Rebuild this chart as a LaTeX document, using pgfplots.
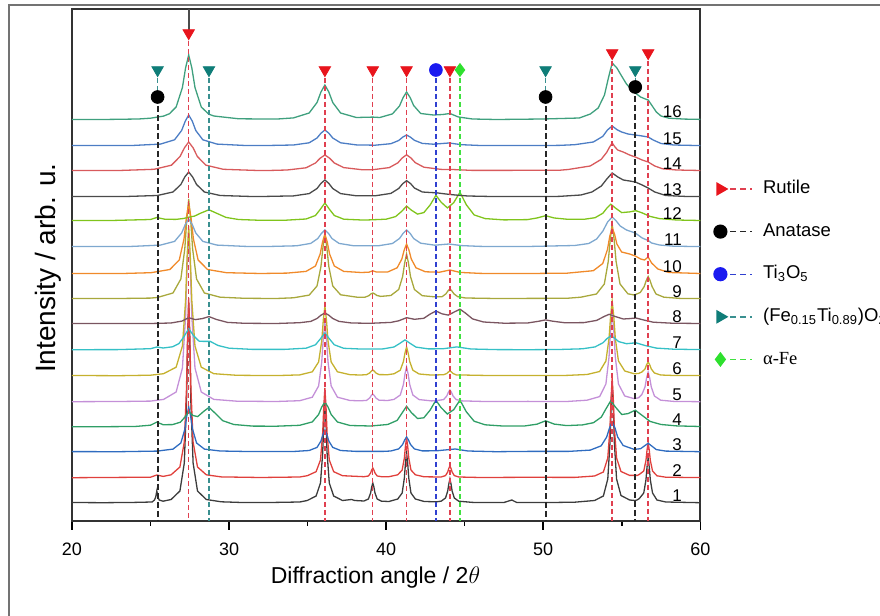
\documentclass[border=0pt]{standalone}
\usepackage{pgfplots}
\pgfplotsset{compat=1.18}
\usepackage{pgfplotstable}
\usepackage{fontspec}
\setmainfont{Liberation Sans}
\newfontfamily\serifa{Liberation Serif}

\definecolor{cA}{HTML}{3C3C3C}
\definecolor{cB}{HTML}{E0403C}
\definecolor{cC}{HTML}{2F6CC0}
\definecolor{cD}{HTML}{2F9E66}
\definecolor{cE}{HTML}{C490D8}
\definecolor{cF}{HTML}{C5B12E}
\definecolor{cG}{HTML}{35C0C6}
\definecolor{cH}{HTML}{7A5560}
\definecolor{cI}{HTML}{A8A83C}
\definecolor{cJ}{HTML}{F08A2A}
\definecolor{cK}{HTML}{7EA8CF}
\definecolor{cL}{HTML}{80C41C}
\definecolor{cM}{HTML}{4A4A4A}
\definecolor{cN}{HTML}{D85A5C}
\definecolor{cO}{HTML}{4C7DC4}
\definecolor{cP}{HTML}{3FA07E}
\definecolor{mred}{HTML}{E8141C}
\definecolor{mteal}{HTML}{0F7D78}
\definecolor{mblue}{HTML}{1A1AF0}
\definecolor{mgreen}{HTML}{2EE02E}
\definecolor{dred}{HTML}{E04050}
\definecolor{dteal}{HTML}{3A9090}
\definecolor{dblue}{HTML}{3040D0}
\definecolor{dgreen}{HTML}{40E040}

% sample 1
\pgfplotstableread{
x y
20.00 0.5
22.00 0.3
24.00 0.6
25.10 1.0
25.25 3
25.33 6
25.40 12
25.47 6
25.55 3
25.80 1.8
26.31 3.5
26.87 12
27.15 40
27.29 100
27.36 160
27.43 200
27.50 160
27.57 100
27.71 40
27.99 12
28.55 3.5
29.50 1.2
31.00 0.4
33.00 0.6
34.50 1
34.98 2.5
35.54 7
35.82 20
35.96 50
36.03 80
36.10 100
36.17 80
36.24 50
36.38 20
36.66 7
37.22 2.5
37.80 3.5
38.00 2.5
38.59 2.0
38.87 4
39.01 10
39.08 16
39.15 20
39.22 16
39.29 10
39.43 4
39.71 1.8
40.18 1.5
40.74 4
41.02 10
41.16 25
41.23 40
41.30 50
41.37 40
41.44 25
41.58 10
41.86 4
42.42 1.5
43.20 1.2
43.50 1.8
43.78 5
43.92 12
43.99 19
44.06 24
44.13 19
44.20 12
44.34 5
44.62 1.8
45.50 0.6
47.50 0.5
48.00 3
48.30 0.6
50.00 0.4
52.00 0.8
53.27 2.5
53.83 7
54.11 24
54.25 60
54.32 96
54.39 120
54.46 96
54.53 60
54.67 24
54.95 7.5
55.50 3
55.86 2.5
56.00 3.2
56.12 4.5
56.40 10
56.54 23
56.61 36
56.68 45
56.75 36
56.82 23
56.96 10
57.24 3
57.80 1
60.00 0.3
}\dataA
% sample 2
\pgfplotstableread{
x y
20.00 0.3
23.00 0.6
25.00 0.8
25.40 3
25.80 1.6
26.31 3.2
26.87 11
27.15 36
27.29 90
27.36 144
27.43 180
27.50 144
27.57 90
27.71 36
27.99 11
28.55 3.2
29.50 1.1
32.00 0.5
34.50 1
34.98 2.3
35.54 6.3
35.82 18
35.96 45
36.03 72
36.10 90
36.17 72
36.24 45
36.38 18
36.66 6.3
37.22 2.3
38.59 1.3
38.87 2
39.01 5
39.08 8
39.15 10
39.22 8
39.29 5
39.43 2
39.71 1.3
40.18 1.3
40.74 3.2
41.02 8
41.16 20
41.23 32
41.30 40
41.37 32
41.44 20
41.58 8
41.86 3.2
42.42 1.2
43.50 1
43.78 2.4
43.92 6
43.99 9.6
44.06 12
44.13 9.6
44.20 6
44.34 2.4
44.62 1
46.00 0.5
49.00 0.7
52.00 0.6
53.27 2
53.83 6
54.11 20
54.25 50
54.32 80
54.39 100
54.46 80
54.53 50
54.67 20
54.95 6.5
55.50 2.6
56.00 2.6
56.12 3.6
56.40 7
56.54 17.5
56.61 28
56.68 35
56.75 28
56.82 17.5
56.96 7
57.24 2.2
57.80 0.8
60.00 0.4
}\dataB
% sample 3
\pgfplotstableread{
x y
20.00 0.4
23.00 0.3
25.43 0.9
26.43 2.9
26.93 9
27.18 22.5
27.31 36
27.43 45
27.55 36
27.68 22.5
27.93 9
28.43 2.9
29.43 1.0
31.50 0.4
34.10 0.5
35.10 1.5
35.60 4.6
35.85 11
35.98 17.6
36.10 22
36.22 17.6
36.35 11
36.60 4.6
37.10 1.5
38.10 0.6
39.80 0.6
40.30 1.0
40.80 3.1
41.05 7.5
41.18 12
41.30 15
41.42 12
41.55 7.5
41.80 3.1
42.30 1.1
43.20 1.2
44.40 3
45.20 1
47.00 0.3
49.00 0.6
51.60 0.6
53.00 1.9
53.69 6.2
54.04 15
54.22 24
54.39 30
54.57 24
54.74 15
55.09 6.5
55.79 2.6
56.20 3.3
56.50 6.7
56.68 8.7
56.85 6.7
57.20 2.4
57.80 0.9
60.00 0.3
}\dataC
% sample 4
\pgfplotstableread{
x y
20 0.3
22 0.3
24 0.5
25.0 1.8
25.4 4.9
25.8 2.3
26.4 2.4
26.9 4.8
27.2 10.1
27.43 15.4
27.7 11.5
28.0 10.4
28.4 15.8
28.72 19.6
29.1 14.0
29.6 6.3
30.3 2.5
31.5 0.9
33.0 0.8
34.5 1.7
35.3 5.1
35.7 12.5
35.9 20
36.1 25
36.3 20
36.5 12.5
36.9 5.0
37.7 1.5
39.0 1.0
40.1 2.5
40.7 6.6
41.0 13.7
41.3 20.7
41.6 14.5
42.0 8.5
42.4 9.2
42.8 16.9
43.17 26.8
43.5 19.3
43.9 13.0
44.3 17.3
44.7 26.9
45.1 15.3
45.6 5.8
46.3 2.2
47.5 0.9
48.8 1.0
49.6 2.8
50.15 6.2
50.7 2.9
51.5 1.4
52.5 2.1
53.2 4.3
53.7 9.9
54.0 18.3
54.3 26.2
54.6 19.9
55.0 12.5
55.4 13.4
55.86 16.8
56.3 11.6
56.8 5.6
57.5 2.5
58.5 1.1
60 0.5
}\dataD
% sample 5
\pgfplotstableread{
x y
20.00 0.3
23.00 0.5
25.00 0.9
25.83 2.6
26.63 10
27.03 34
27.23 85
27.33 136
27.43 170
27.53 136
27.63 85
27.83 34
28.23 10
29.03 2.6
30.50 0.8
33.00 0.5
34.50 1.3
35.30 4.8
35.70 16
35.90 40
36.00 64
36.10 80
36.20 64
36.30 40
36.50 16
36.90 4.8
37.70 1.5
38.35 1.2
38.75 1.6
38.95 4
39.05 6.4
39.15 8
39.25 6.4
39.35 4
39.55 1.8
40.10 1.5
40.50 2.6
40.90 7
41.10 17.5
41.20 28
41.30 35
41.40 28
41.50 17.5
41.70 7
42.10 2.4
42.90 1.1
43.26 1.5
43.66 2.4
43.86 6
43.96 9.6
44.06 12
44.16 9.6
44.26 6
44.46 2.4
44.86 1.1
46.50 0.4
49.00 0.6
51.50 0.5
52.79 1.8
53.59 5.4
53.99 18
54.19 45
54.29 72
54.39 90
54.49 72
54.59 45
54.79 18
55.19 6
55.80 3.3
56.08 4.3
56.28 7.5
56.48 15
56.58 24
56.68 30
56.78 24
56.88 15
57.08 6
57.48 1.8
58.30 0.6
60.00 0.3
}\dataE
% sample 6
\pgfplotstableread{
x y
20.00 0.5
23.00 0.3
25.00 0.8
25.83 2.3
26.63 8.8
27.03 30
27.23 75
27.33 120
27.43 150
27.53 120
27.63 75
27.83 30
28.23 8.8
29.03 2.3
30.50 0.7
33.00 0.4
34.50 1.1
35.30 4.2
35.70 14
35.90 35
36.00 56
36.10 70
36.20 56
36.30 35
36.50 14
36.90 4.2
37.70 1.3
38.35 1.0
38.75 1.3
38.95 3
39.05 4.8
39.15 6
39.25 4.8
39.35 3
39.55 1.4
40.10 1.3
40.50 2.2
40.90 5.8
41.10 14.5
41.20 23
41.30 29
41.40 23
41.50 14.5
41.70 5.8
42.10 2.0
42.90 0.9
43.66 1.3
43.86 2.5
43.96 4
44.06 5
44.16 4
44.26 2.5
44.46 1.1
46.50 0.5
49.00 0.4
51.50 0.6
52.79 1.5
53.59 4.5
53.99 15
54.19 37.5
54.29 60
54.39 75
54.49 60
54.59 37.5
54.79 15
55.19 5
55.80 2.2
56.08 2.6
56.28 4
56.48 7
56.58 11.2
56.68 14
56.78 11.2
56.88 7
57.08 3
57.48 1.0
58.30 0.5
60.00 0.4
}\dataF
% sample 7
\pgfplotstableread{
x y
20 0.3
23 0.4
25.0 1.3
25.4 3.0
25.8 2.0
26.4 3.2
26.8 6.3
27.1 12.7
27.43 21.3
27.75 14.1
28.1 8.7
28.5 8.6
28.8 8.6
29.3 4.5
30.0 1.8
31.5 0.6
33.5 0.6
34.9 1.8
35.5 5.2
35.8 10.9
36.1 17
36.4 10.9
36.7 5.2
37.3 1.7
38.5 0.9
39.8 1.1
40.5 3.0
40.9 6.9
41.2 10.1
41.5 6.9
41.9 2.9
42.7 1.1
43.6 1.2
44.5 3.1
45.4 1.0
47.0 0.4
49.0 0.3
51.0 0.5
52.5 1.2
53.3 3.1
53.8 7.2
54.05 11.2
54.3 14.1
54.55 11.8
54.8 8.4
55.3 6.3
55.9 7.2
56.5 4.4
57.2 1.9
58.3 0.8
60 0.4
}\dataG
% sample 8
\pgfplotstableread{
x y
20 0.4
23 0.5
25.0 0.5
26.3 1.0
27.0 2.9
27.43 6.3
27.85 4.4
28.3 5.4
28.72 7.4
29.2 4.5
29.9 1.6
31.0 0.7
33.0 0.5
34.5 1.3
35.2 2.6
35.6 5.5
35.85 8.8
36.1 11
36.35 8.8
36.6 5.5
37.0 2.6
37.8 1.0
39.0 0.7
40.3 1.6
40.8 3.2
41.3 6.3
41.8 4.7
42.4 5.7
42.8 9.9
43.17 13.0
43.55 10.2
43.95 8.9
44.35 12.1
44.7 14.8
45.05 10.9
45.5 5.1
46.2 2.0
47.5 0.8
49.0 1.0
49.7 2.7
50.15 4.1
50.6 2.8
51.4 1.2
52.6 1.4
53.4 3.6
53.9 7.7
54.2 9.7
54.6 7.4
55.1 5.0
55.5 5.4
55.9 6.0
56.4 4.0
57.0 1.8
58.2 0.8
60 0.5
}\dataH
% sample 9
\pgfplotstableread{
x y
20.00 0.4
23.00 0.5
25.00 0.9
25.43 1.5
26.43 6
26.93 20
27.18 50
27.31 80
27.43 100
27.55 80
27.68 50
27.93 20
28.43 6
29.43 1.8
31.00 0.7
33.00 0.5
34.10 1.2
35.10 3.9
35.60 13
35.85 32.5
35.98 52
36.10 65
36.22 52
36.35 32.5
36.60 13
37.10 4.2
38.15 1.8
38.65 1.8
38.90 3.3
39.03 5.1
39.15 6
39.27 5.1
39.40 3.6
39.65 2.6
40.30 3.5
40.80 9.5
41.05 22.5
41.18 36
41.30 45
41.42 36
41.55 22.5
41.80 9.5
42.30 3.3
43.06 2.2
43.56 2.3
43.81 5.2
43.94 8.2
44.06 10
44.18 8.2
44.31 5.2
44.56 2.3
45.06 1.0
47.00 0.5
49.00 0.6
51.50 0.7
52.39 1.8
53.39 5
53.89 15
54.14 37.5
54.27 60
54.39 75
54.51 60
54.64 37.5
54.89 15
55.39 5.2
55.80 4
56.18 6.5
56.43 12.5
56.56 18.5
56.68 22.5
56.80 18.5
56.93 12.5
57.18 5
57.68 1.8
58.70 0.6
60.00 0.4
}\dataI
% sample 10
\pgfplotstableread{
x y
20.00 0.5
23.00 0.4
25.03 1.3
26.23 4.5
26.83 14
27.13 35
27.28 56
27.43 70
27.58 56
27.73 35
28.03 14
28.63 4.5
29.83 1.3
32.00 0.5
33.70 0.9
34.90 2.6
35.50 8
35.80 20
35.95 32
36.10 40
36.25 32
36.40 20
36.70 8
37.30 2.6
38.40 1.5
38.90 1.8
39.15 3.2
39.40 1.9
40.10 2.0
40.70 6.2
41.00 15
41.15 24
41.30 30
41.45 24
41.60 15
41.90 6.2
42.50 2.2
43.40 1.8
44.06 4
44.70 1.6
46.00 0.6
49.00 0.5
51.50 0.8
53.19 3.3
53.79 10.5
54.09 24.5
54.24 38
54.39 46
54.54 40
54.69 30
54.99 22
55.50 20
55.86 18
56.20 15
56.45 14
56.68 17
56.90 11
57.30 5
58.00 1.5
60.00 0.5
}\dataJ
% sample 11
\pgfplotstableread{
x y
20 0.4
22 0.4
23.83 0.6
25.63 1.9
26.53 5.6
26.98 14
27.21 22.4
27.43 28
27.66 22.4
27.88 14
28.33 5.6
29.23 1.9
31.03 0.6
32.50 0.5
34.30 1.2
35.20 3.6
35.65 8.5
35.88 13.6
36.10 17
36.33 13.6
36.55 8.5
37.00 3.6
37.90 1.3
39.50 1.2
40.40 3.5
40.85 8.5
41.08 13.6
41.30 17
41.53 13.6
41.75 8.5
42.20 3.8
43.10 1.8
44.00 3
44.80 1.4
46.00 0.6
49.00 0.5
52.00 1.5
52.90 3.5
53.40 8
53.80 16
54.10 25
54.39 30
54.65 26
54.90 21
55.30 17
55.86 14
56.30 9
56.68 6.5
56.90 4
57.40 2
58.30 0.8
60 0.4
}\dataK
% sample 12
\pgfplotstableread{
x y
20 0.4
22.5 0.5
25.0 1.5
25.4 3.5
25.9 1.8
26.6 1.6
27.1 2.5
27.43 3.8
27.8 4.9
28.2 7.9
28.72 11.2
29.2 7.8
29.8 3.6
30.6 1.5
32.0 0.7
33.5 0.7
34.9 2.0
35.5 5.5
35.8 11.5
36.1 18
36.4 11.5
36.7 5.5
37.3 1.8
38.6 0.9
40.0 1.8
40.6 4.4
41.0 9.8
41.3 14.9
41.6 10.9
42.0 6.9
42.4 8.4
42.8 16.0
43.17 25.7
43.5 18.8
43.9 13.1
44.3 18.3
44.7 28.8
45.1 16.3
45.6 6.1
46.3 2.4
47.5 1.1
49.0 1.4
49.6 3.0
50.15 5.3
50.7 3.0
51.5 1.8
52.6 1.7
53.3 3.3
53.8 7.8
54.05 12.8
54.3 16.8
54.6 12.9
55.0 8.4
55.5 9.1
55.9 10.3
56.3 8.1
56.8 4.6
57.4 2.4
58.5 1.0
60 0.5
}\dataL
% sample 13
\pgfplotstableread{
x y
20 0.4
23.43 0.5
25.43 1.5
26.43 5
26.93 12.5
27.18 20
27.43 25
27.68 20
27.93 12.5
28.43 5
29.43 1.5
31.43 0.5
32.10 0.5
34.10 1.1
35.10 3.4
35.60 8.5
35.85 13.6
36.10 17
36.35 13.6
36.60 8.5
37.10 3.4
38.10 1.2
39.30 1.2
40.30 3.6
40.80 8.5
41.05 13.2
41.30 16.3
41.55 13.5
41.80 9
42.30 5
42.80 4.5
43.20 4.2
43.80 3
44.40 2
45.20 1
47.00 0.4
51.00 0.6
52.40 2
53.10 5
53.70 11
54.05 18
54.39 24
54.75 20
55.10 17
55.50 16
55.86 15
56.30 12
56.68 9
57.10 5
57.80 1.5
59.00 0.6
60 0.4
}\dataM
% sample 14
\pgfplotstableread{
x y
20 0.5
23.00 0.5
25.23 1.7
26.33 5.8
26.88 14.5
27.16 23.2
27.43 29
27.71 23.2
27.98 14.5
28.53 5.8
29.63 1.7
31.83 0.5
32.50 0.5
33.70 1.0
34.90 3.2
35.50 8
35.80 12.8
36.10 16
36.40 12.8
36.70 8
37.30 3.4
38.50 1.2
39.10 1.2
40.20 3.4
40.75 8.2
41.02 13
41.30 16.2
41.58 13
41.85 8.4
42.40 3.8
43.50 1.6
44.20 1.5
45.50 0.6
51.00 0.7
51.59 1.5
52.99 5
53.69 11.6
54.04 18.6
54.21 23.5
54.39 28
54.57 24
54.74 21
55.09 19
55.50 16
55.86 14
56.30 11
56.68 9
57.10 5
57.60 2.2
58.50 1.0
60 0.5
}\dataN
% sample 15
\pgfplotstableread{
x y
20 0.4
23.83 0.5
25.63 1.9
26.53 6.2
26.98 15.5
27.21 24.8
27.43 31
27.66 24.8
27.88 15.5
28.33 6.2
29.23 1.9
31.03 0.5
32.10 0.4
34.10 1.0
35.10 3.2
35.60 8
35.85 12.8
36.10 16
36.35 12.8
36.60 8
37.10 3.2
38.10 1.1
39.30 0.8
40.30 2.3
40.80 5.5
41.05 8.8
41.30 11
41.55 8.8
41.80 5.7
42.30 2.6
43.00 1.8
44.00 3
44.80 1.3
46.00 0.5
51.00 0.6
52.00 1.3
53.19 4
53.79 9.6
54.09 16
54.39 20
54.69 16.4
54.99 14
55.40 12
55.86 11
56.30 10
56.68 9
57.00 6
57.50 2.5
58.30 1.0
60 0.4
}\dataO
% sample 16
\pgfplotstableread{
x y
20 0.5
22.5 0.6
24.23 1.0
25.00 1.8
25.83 3.9
26.20 6.2
26.63 13
27.03 32.5
27.23 52
27.43 65
27.63 52
27.83 32.5
28.23 13
28.70 5.9
29.03 4
30.63 1.2
33.00 0.9
34.10 2.1
35.10 7
35.60 17.5
35.85 28
36.10 35
36.35 28
36.60 17.5
37.10 7
38.10 2.5
39.15 2.9
39.60 2.5
40.40 6.1
40.85 14
41.08 22.4
41.30 28
41.53 22.4
41.75 14.5
42.20 6.5
43.00 5
43.60 5.5
44.06 6.5
44.60 3
45.50 1
47.00 0.5
50.00 1.0
52.30 2
53.00 6
53.50 12
53.90 25
54.15 42
54.39 57
54.69 52
54.99 44
55.30 36
55.59 31
55.86 27
56.20 23
56.50 21
56.68 20
56.90 15
57.20 8
57.50 4
58.00 1.8
59.00 0.9
60 0.6
}\dataP

\pgfplotsset{
  trace/.style={color=#1, line width=0.65pt, forget plot},
  rdash/.style={color=dred, line width=0.7pt, dash pattern=on 2.5pt off 1.5pt, forget plot},
  kdash/.style={color=black!85, line width=1pt, dash pattern=on 3pt off 1.5pt, forget plot},
  tdash/.style={color=dteal, line width=0.7pt, dash pattern=on 2.5pt off 1.5pt, forget plot},
  bdash/.style={color=dblue, line width=0.7pt, dash pattern=on 2.5pt off 1.5pt, forget plot},
  gdash/.style={color=dgreen, line width=0.7pt, dash pattern=on 2.5pt off 1.5pt, forget plot},
}
\tikzset{lab/.style={anchor=south east, inner sep=0pt, font=\fontsize{8.5}{9}\selectfont}}

\begin{document}
\begin{tikzpicture}
\useasboundingbox (0,0) rectangle (440pt,308pt);
\draw[color=black!55, line width=1pt] (4.5pt,0pt) -- (4.5pt,305.5pt) -- (440pt,305.5pt);
\begin{axis}[
  at={(36pt,47.5pt)}, anchor=south west,
  scale only axis, width=314.15pt, height=256pt,
  xmin=20, xmax=60, ymin=0, ymax=512,
  xtick={20,30,40,50,60}, minor xtick={25,35,45,55},
  ytick=\empty,
  xtick pos=bottom, tick align=outside,
  major tick length=4.5pt, minor tick length=2.5pt,
  every tick/.style={black, line width=0.75pt},
  axis line style={color=black!80, line width=1pt},
  tick label style={font=\fontsize{9}{10}\selectfont},
  /pgf/number format/assume math mode=true,
  xticklabel style={yshift=-3pt},
  xlabel={Diffraction angle / 2$\theta$},
  xlabel style={at={(axis description cs:0.483,-0.123)}, anchor=base, font=\fontsize{11.5}{13}\selectfont},
  ylabel={Intensity / arb. u.},
  ylabel style={at={(axis description cs:-0.027,0.494)}, anchor=base, font=\fontsize{14}{16}\selectfont},
  legend image code/.code={
    \draw[#1, mark=none] (0pt,0pt) -- (16pt,0pt);
    \draw[#1, solid] plot coordinates {(0pt,0pt)};},
  legend style={at={(axis description cs:1.0218,0.666)}, anchor=north west,
    draw=none, fill=none, inner sep=0pt, outer sep=0pt,
    font=\fontsize{9.25}{10}\selectfont, row sep=12.3pt,
    nodes={inner sep=0pt, text height=6.8pt, text depth=2.2pt},
    /tikz/every odd column/.append style={column sep=5pt}},
  legend cell align=left,
]
% diffraction patterns, stacked
\addplot[trace=cA] table[x=x, y expr=\thisrow{y}+18] {\dataA};
\addplot[trace=cB] table[x=x, y expr=\thisrow{y}+43] {\dataB};
\addplot[trace=cC] table[x=x, y expr=\thisrow{y}+69] {\dataC};
\addplot[trace=cD] table[x=x, y expr=\thisrow{y}+94] {\dataD};
\addplot[trace=cE] table[x=x, y expr=\thisrow{y}+119] {\dataE};
\addplot[trace=cF] table[x=x, y expr=\thisrow{y}+145] {\dataF};
\addplot[trace=cG] table[x=x, y expr=\thisrow{y}+171] {\dataG};
\addplot[trace=cH] table[x=x, y expr=\thisrow{y}+197] {\dataH};
\addplot[trace=cI] table[x=x, y expr=\thisrow{y}+222] {\dataI};
\addplot[trace=cJ] table[x=x, y expr=\thisrow{y}+247] {\dataJ};
\addplot[trace=cK] table[x=x, y expr=\thisrow{y}+274] {\dataK};
\addplot[trace=cL] table[x=x, y expr=\thisrow{y}+300] {\dataL};
\addplot[trace=cM] table[x=x, y expr=\thisrow{y}+324] {\dataM};
\addplot[trace=cN] table[x=x, y expr=\thisrow{y}+350] {\dataN};
\addplot[trace=cO] table[x=x, y expr=\thisrow{y}+375] {\dataO};
\addplot[trace=cP] table[x=x, y expr=\thisrow{y}+401] {\dataP};

% reference lines
\addplot[color=black!70, line width=0.8pt, forget plot] coordinates {(27.43,512) (27.43,488)};
\addplot[rdash] coordinates {(27.43,488) (27.43,0)};
\addplot[rdash] coordinates {(36.10,451) (36.10,0)};
\addplot[rdash] coordinates {(39.15,451) (39.15,0)};
\addplot[rdash] coordinates {(41.30,451) (41.30,0)};
\addplot[rdash] coordinates {(44.06,451) (44.06,0)};
\addplot[rdash] coordinates {(54.39,468) (54.39,0)};
\addplot[rdash] coordinates {(56.68,468) (56.68,0)};
\addplot[kdash] coordinates {(25.45,424) (25.45,0)};
\addplot[kdash] coordinates {(50.15,424) (50.15,0)};
\addplot[kdash] coordinates {(55.86,434) (55.86,0)};
\addplot[tdash] coordinates {(25.45,451) (25.45,424)};
\addplot[tdash] coordinates {(50.15,451) (50.15,424)};
\addplot[tdash] coordinates {(55.86,451) (55.86,434)};
\addplot[tdash] coordinates {(28.72,451) (28.72,0)};
\addplot[bdash] coordinates {(43.17,451) (43.17,0)};
\addplot[gdash] coordinates {(44.70,451) (44.70,0)};

% phase markers
\addplot[only marks, mark=triangle*, mark size=3.3pt, mark options={rotate=180, fill=mred, draw=mred}, forget plot]
  coordinates {(27.43,488) (36.10,451) (39.15,451) (41.30,451) (44.06,451) (54.39,468) (56.68,468)};
\addplot[only marks, mark=triangle*, mark size=3.3pt, mark options={rotate=180, fill=mteal, draw=mteal}, forget plot]
  coordinates {(25.45,451) (28.72,451) (50.15,451) (55.86,451)};
\addplot[only marks, mark=*, mark size=3.2pt, mark options={fill=black, draw=black}, forget plot]
  coordinates {(25.45,424) (50.15,424) (55.86,434)};
\addplot[only marks, mark=*, mark size=3.2pt, mark options={fill=mblue, draw=mblue}, forget plot]
  coordinates {(43.17,451)};
\addplot[only marks, mark=diamond*, mark size=3.2pt, mark options={fill=mgreen, draw=mgreen}, forget plot]
  coordinates {(44.70,451)};

% sample numbers
\node[lab] at (axis cs:58.85,19) {1};
\node[lab] at (axis cs:58.85,44) {2};
\node[lab] at (axis cs:58.85,70) {3};
\node[lab] at (axis cs:58.85,95) {4};
\node[lab] at (axis cs:58.85,120) {5};
\node[lab] at (axis cs:58.85,146) {6};
\node[lab] at (axis cs:58.85,172) {7};
\node[lab] at (axis cs:58.85,198) {8};
\node[lab] at (axis cs:58.85,223) {9};
\node[lab] at (axis cs:58.85,248) {10};
\node[lab] at (axis cs:58.85,275) {11};
\node[lab] at (axis cs:58.85,301) {12};
\node[lab] at (axis cs:58.85,325) {13};
\node[lab] at (axis cs:58.85,351) {14};
\node[lab] at (axis cs:58.85,376) {15};
\node[lab] at (axis cs:58.85,403) {16};

% legend
\addlegendimage{color=dred, line width=0.7pt, dash pattern=on 3pt off 2pt, mark=triangle*, mark size=3.3pt, mark options={rotate=-90, fill=mred, draw=mred}}
\addlegendentry{Rutile}
\addlegendimage{color=black!85, line width=0.7pt, dash pattern=on 3pt off 2pt, mark=*, mark size=3.2pt, mark options={fill=black, draw=black}}
\addlegendentry{Anatase}
\addlegendimage{color=dblue, line width=0.7pt, dash pattern=on 3pt off 2pt, mark=*, mark size=3.2pt, mark options={fill=mblue, draw=mblue}}
\addlegendentry{Ti\textsubscript{3}O\textsubscript{5}}
\addlegendimage{color=dteal, line width=0.7pt, dash pattern=on 3pt off 2pt, mark=triangle*, mark size=3.3pt, mark options={rotate=-90, fill=mteal, draw=mteal}}
\addlegendentry{(Fe\textsubscript{0.15}Ti\textsubscript{0.89})O\textsubscript{2}}
\addlegendimage{color=dgreen, line width=0.7pt, dash pattern=on 3pt off 2pt, mark=diamond*, mark size=3.2pt, mark options={fill=mgreen, draw=mgreen}}
\addlegendentry{{\serifa α-Fe}}
\end{axis}
\end{tikzpicture}
\end{document}
